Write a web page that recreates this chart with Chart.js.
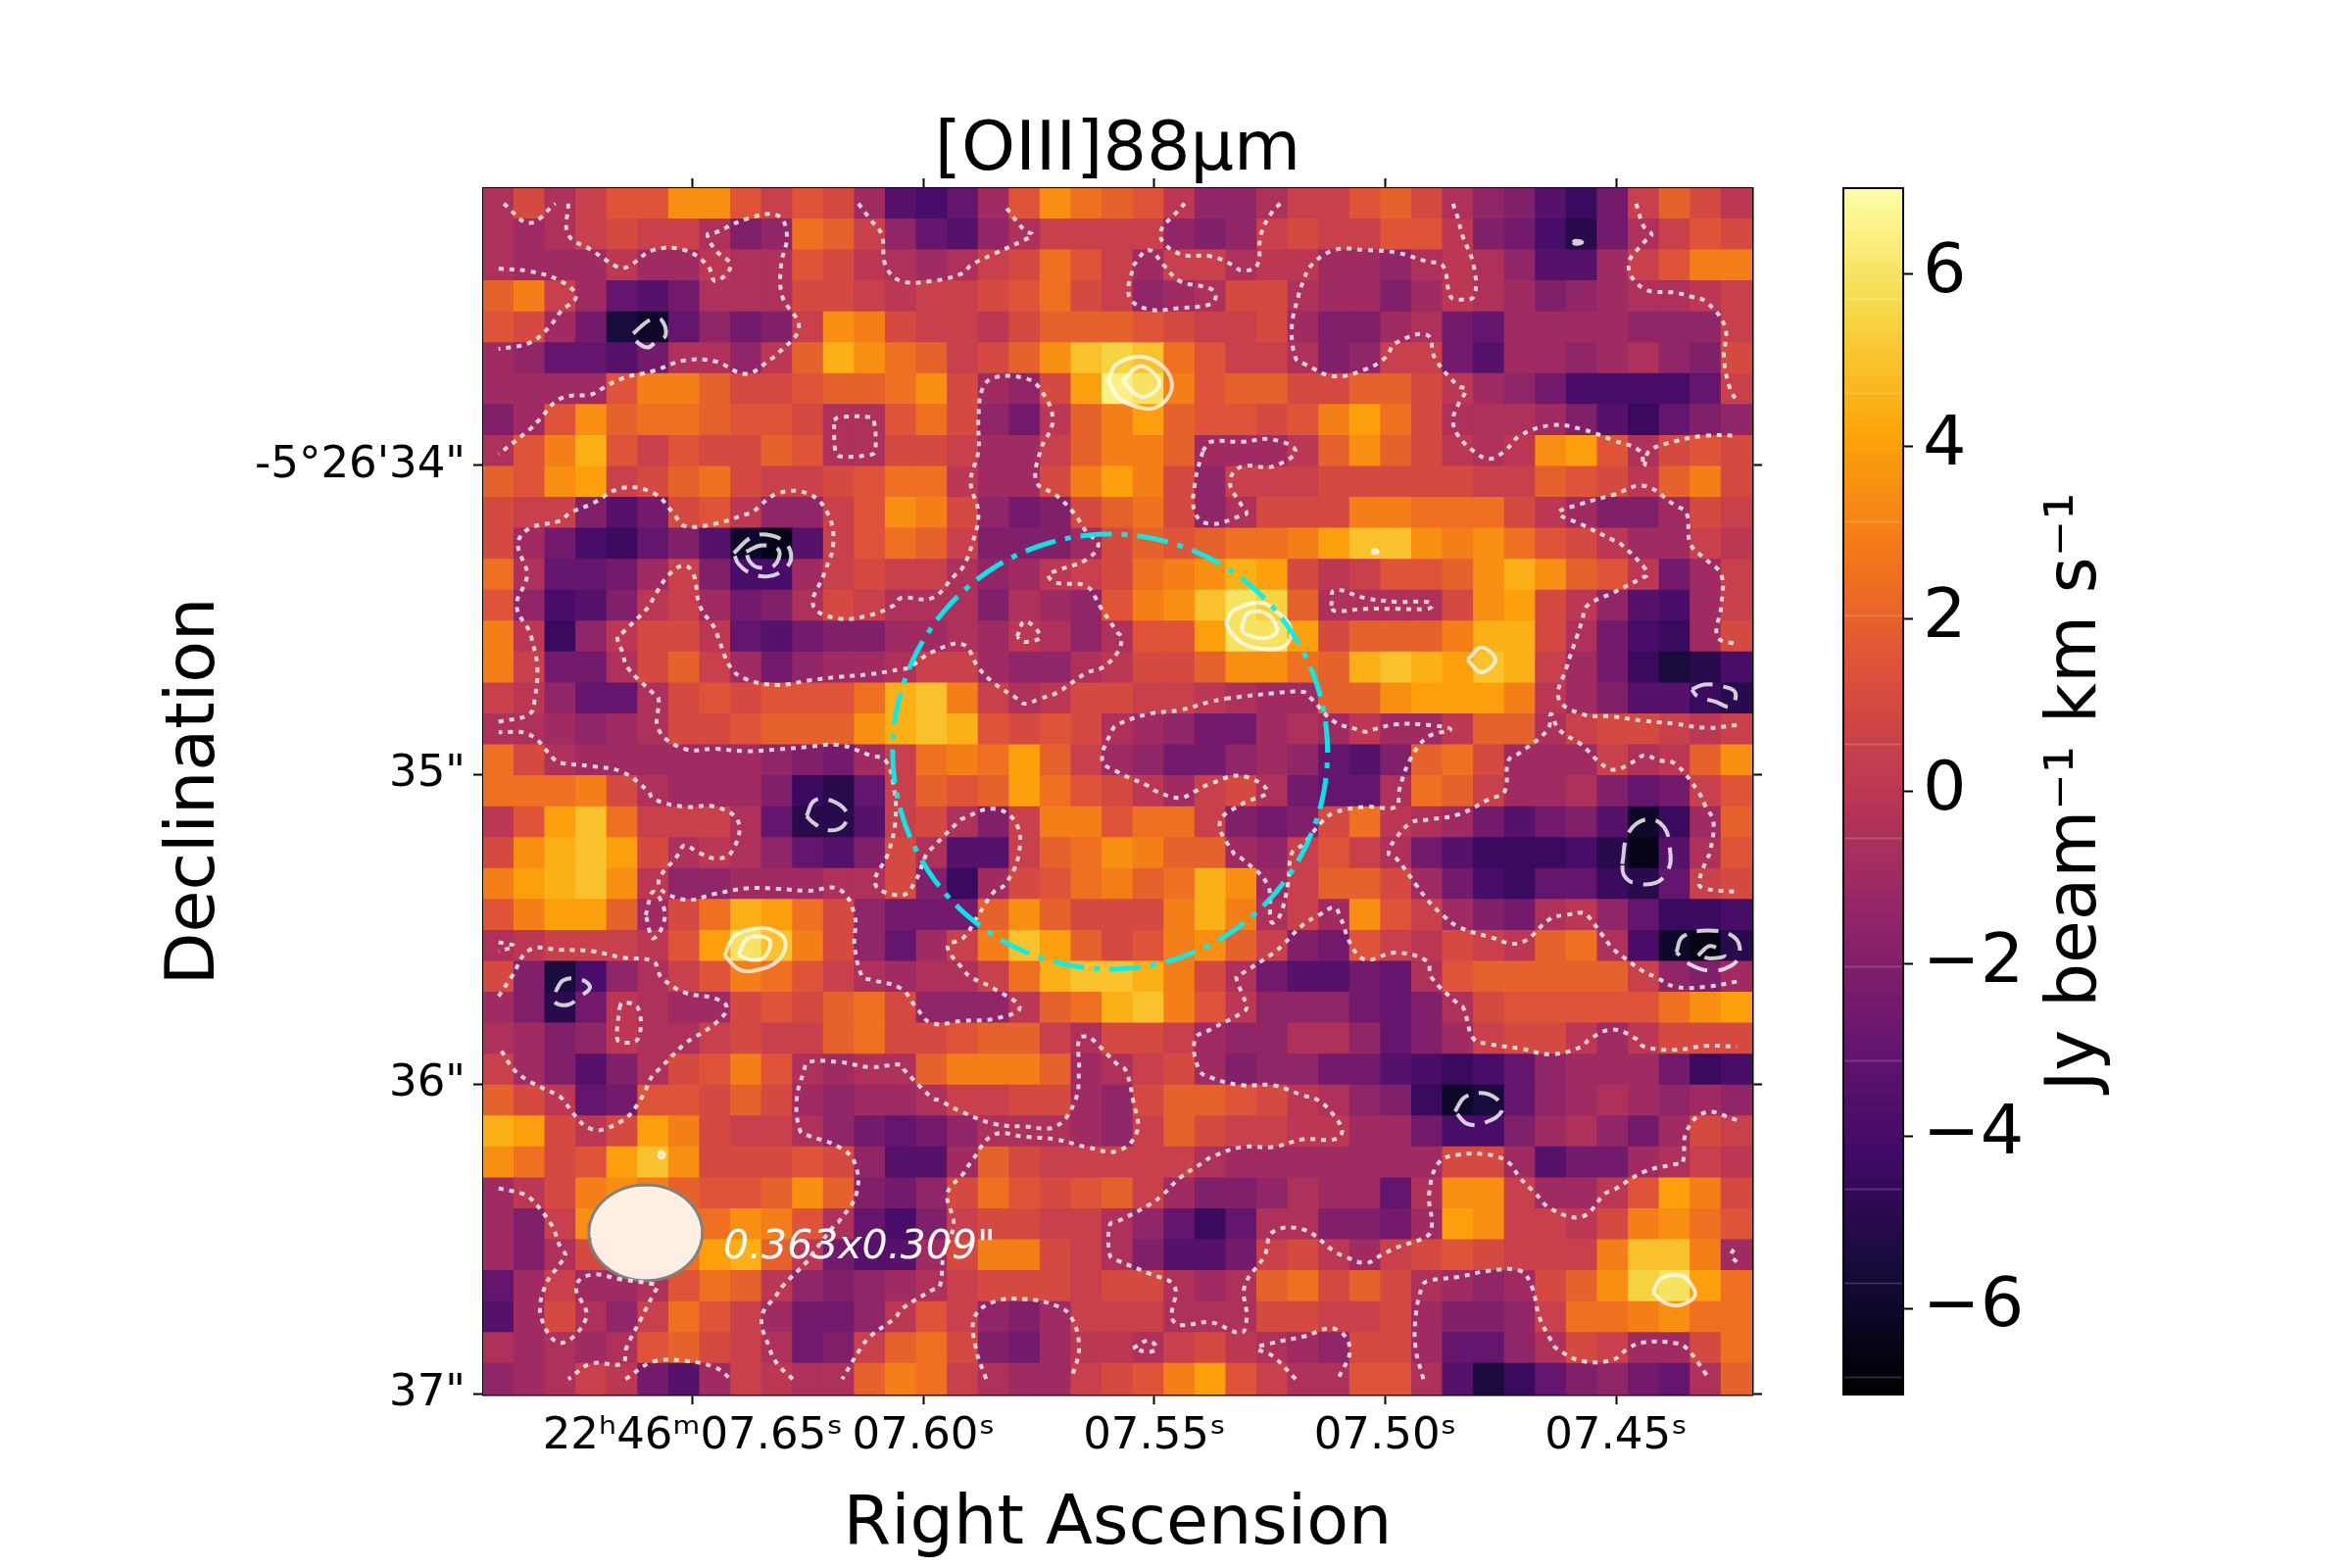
<!DOCTYPE html>
<html>
<head>
<meta charset="utf-8">
<style>
  body { margin: 0; background: #fff; }
  canvas { position: absolute; left: 0; top: 0; }
</style>
<script src="https://cdn.jsdelivr.net/npm/chart.js@4"></script>
</head>
<body>
<canvas id="mapChart" width="2400" height="1600"></canvas>
<canvas id="barChart" width="2400" height="1600"></canvas>
<script>
// moment 0 map, Jy/beam km/s in blocks of 2x2 map pixels (41 x 39)
const heat = [
[-.5,1,-.5,.5,1.5,1.5,3.5,3.5,1.5,.5,1.5,1,-1,-3.5,-4,-3,-1,1.5,3.5,2.5,2,1.5,0,-1.5,-1.5,-.5,.5,.5,1.5,2,1,-.5,-1.5,-2,-3.5,-4.5,-2.5,.5,2,1,0],
[-.5,-1,-.5,.5,1,.5,.5,-.5,-2,-1.5,2.5,2,.5,-1.5,-3,-3.5,-1.5,-.5,.5,.5,.5,.5,-1.5,-2,-1.5,.5,1,.5,.5,1.5,1.5,0,-2,-2.5,-4,-5,-2.5,-.5,.5,1.5,1],
[-.5,-1,-1,-1,0,-1,-1,0,-.5,-.5,1.5,1,0,-.5,-1,-.5,.5,1,2.5,1.5,.5,-1,.5,.5,-.5,0,0,-1,-1,-1.5,-.5,0,-.5,-1.5,-3.5,-3.5,-1,.5,1.5,3,3],
[2,3,.5,-1,-3,-3.5,-2.5,-.5,-.5,-.5,1,1,.5,0,.5,.5,1,1.5,2.5,1,.5,-1.5,-1,-.5,1,1,-.5,-1,-1,-2,-1,0,-.5,-1,-2,-1.5,-1,-.5,-.5,0,.5],
[1.5,1,-1,-2.5,-5.5,-6,-3,-1.5,-2.5,-2,.5,3.5,3,1,.5,.5,0,1,2,2,2,1.5,1,.5,.5,1,-1,-2,-2,-1,-.5,-2.5,-3,-1,-1,-1,-1,-1.5,-1.5,-1.5,.5],
[-1,-1.5,-3,-3,-3.5,-2.5,-.5,-.5,-1.5,0,2,4.5,3.5,2.5,2,.5,1,2,3.5,5,5.5,5,2.5,1.5,.5,.5,-.5,-2,-1.5,.5,.5,-2.5,-3.5,-1,-1,-1.5,-1,-.5,-1.5,-2,1],
[-1,-1,-1,-1,1.5,3,3,2,1,1,1.5,2,2,2.5,3.5,1,-1,-1.5,1,4,6.5,6,3,1.5,2,2,1,1,2,2,1,0,-1,-1.5,-2.5,-4,-4,-4,-4,-3,.5],
[-2,-1,1.5,3.5,2,2.5,2.5,2,1.5,1.5,1,-.5,-.5,1.5,2.5,1,-1.5,-2.5,0,2,3,4,2,1.5,1.5,1,1.5,3,4,2.5,1,-.5,-.5,-.5,-1,-2,-3.5,-4.5,-3,-2,-1.5],
[-.5,1.5,3,4.5,1.5,.5,1.5,1,1,2,1.5,-.5,-.5,1,1,.5,-1,-1,.5,2,3,3,2,-1,-1,-1,0,2,3.5,2,1,0,-.5,0,3.5,4,1.5,-.5,1,1.5,1],
[2,1.5,3.5,4,.5,1,2,2.5,1,.5,.5,1,1.5,2.5,2.5,0,-1,-1,1,3,4,3,1,-1.5,.5,.5,.5,1,1,1,1,1,.5,.5,2,1.5,1,0,2,3,1],
[1,.5,.5,-2,-3.5,-2.5,1,1.5,0,-1.5,-1.5,.5,1.5,3.5,3,1,-1.5,-2.5,-2,1,2,2.5,1,-1.5,-.5,1,1,1,3,3,2.5,2.5,2.5,1,0,-1,-2,-2,-1,1,.5],
[1,-1,-2.5,-4,-4.5,-3,-2,-3.5,-6,-6.5,-3.5,.5,1.5,2.5,2,.5,-2,-2,-2,-1,1,2,1.5,2,2.5,2.5,3,4,5,5,3.5,3,3.5,2.5,1.5,1,0,-1,-1,.5,0],
[2.5,-.5,-3,-3,-2.5,-1,.5,-2,-4,-4,-1,.5,1,.5,.5,-.5,-1.5,-1,0,.5,1,2.5,3,3.5,4.5,4,1,0,.5,1.5,1.5,2,3.5,4.5,3.5,2,1.5,0,-2.5,-1,.5],
[1.5,-1.5,-4,-3.5,-2,0,.5,-1,-2.5,-2,-.5,1,.5,-.5,-.5,-.5,-2,-.5,-1,-1.5,1.5,3,3.5,5,6,5.5,2,-.5,-.5,-.5,-.5,1,3.5,4,1,0,-1.5,-3.5,-4,-1,.5],
[3,0,-4.5,-1.5,0,1,1,0,-3,-3.5,-2.5,-2,-2,-1,-1,-.5,-1,0,-.5,-1.5,-.5,1.5,1.5,4,6,6,4,1,2,2,2,3,4.5,4.5,1,-.5,-2.5,-4,-4.5,-1,1],
[3,.5,-2.5,-2.5,-.5,1,2,.5,-1,-2.5,-1.5,-1,-1,-.5,.5,.5,-1,-1.5,-1.5,-.5,0,1,1,2,3.5,3.5,2.5,2,4.5,5,4.5,4,5,4.5,.5,-1,-2.5,-4.5,-5.5,-5,-4],
[.5,0,-1.5,-3,-3,-.5,1,1.5,1,1.5,1.5,1.5,2.5,4.5,5,3,.5,-.5,0,1,1,.5,.5,0,-.5,-1,-1,2,2,3.5,4,4,4,3,0,-1,-2,-3.5,-3.5,-4.5,-5],
[-.5,-.5,-1,-1.5,-1,-.5,1,1,1.5,2,2,2,3.5,4.5,5,4.5,1.5,1,1.5,1,-.5,-1,-1.5,-2.5,-2.5,-1,-.5,-1,0,-1,-1,0,2,2,-.5,.5,1,1,.5,0,.5],
[2.5,1,-.5,-1,-1,-1,-1,-1,-1,-1.5,-2,-2.5,-1,.5,2.5,3,2.5,4,2,.5,-1,-1.5,-2.5,-2.5,-1.5,-1,-1.5,-3,-3.5,-2,2,2.5,1,-1,-1,-1,.5,-.5,0,2,3.5],
[2.5,2.5,2.5,3,1,-.5,-1,-1,-1,-2,-4.5,-5,-3,.5,2,1.5,2,4,2.5,1.5,1,0,-1,.5,1,-.5,-2.5,-3,-3,-.5,2.5,2,.5,-1,-1,-.5,-2,-3,-2.5,.5,1.5],
[0,1.5,4,5,2.5,.5,.5,.5,-.5,-3,-5,-5,-3.5,.5,1,-.5,-2,.5,3,3,1.5,2.5,2.5,.5,-2,-2.5,-2,1,2.5,0,-.5,-1,-2.5,-3.5,-2.5,-2,-3.5,-6,-4.5,-1,2],
[1,3.5,4.5,5,4,1,-.5,0,-.5,-1.5,-3,-3.5,-2,1,-.5,-3.5,-3.5,.5,2,2.5,3.5,3,2,2,-1,-1.5,.5,1.5,.5,-.5,-2.5,-3.5,-4.5,-4.5,-4.5,-4,-5,-6.5,-3.5,-.5,1.5],
[3,4,4.5,5,3.5,0,-1.5,-1.5,-1,-1,-1,-.5,-.5,1,-2,-4.5,-1,1,1.5,2.5,3,2,2.5,4.5,3.5,-1,.5,2,2,1,-1,-2.5,-4,-4.5,-3,-3,-4.5,-5,-3,.5,1],
[1.5,3,4,4,2,-1,1,2.5,4.5,4,2.5,1,-1.5,-2.5,-2.5,-2.5,2,3.5,2,1,1,1,3,4.5,3,-.5,.5,-1,3.5,1.5,.5,-1,-2,-2.5,-.5,0,-1.5,-3,-4.5,-4.5,-4],
[-.5,0,.5,.5,.5,0,1.5,4,6,5,3,1,-1.5,-3,-1,.5,3,5,4,2,1,1.5,3,3.5,2,.5,-2,-2.5,1.5,.5,0,1,.5,0,2,2.5,-.5,-4,-6,-6.5,-5],
[1,-2,-5.5,-4,-1.5,-.5,.5,1.5,3,2.5,1.5,.5,-.5,-1,-.5,-.5,.5,2.5,4.5,5,5,4.5,3,1,-.5,-2.5,-3.5,-3.5,-2.5,-3,-.5,1.5,2,2,2,2,2,.5,-1.5,-2,-1],
[-1,-2,-5,-2.5,0,-.5,-1,-1,1,1.5,1,2,2.5,1,-1.5,-1.5,-1.5,0,2,2.5,4.5,5,3,1.5,0,-1.5,-1.5,-1.5,-2.5,-3,-2,-.5,1,1.5,1.5,1.5,1.5,1.5,2.5,3.5,4],
[-.5,-1,-2,-1.5,0,-.5,-.5,.5,1,.5,.5,2,2.5,1,1,1.5,2,2,.5,-.5,1,1,.5,-1,-1.5,-1.5,-.5,-.5,-1.5,-3,-2,-1,.5,1,1,0,-1,0,1,1,1],
[.5,-1,-2,-3.5,-2,-.5,1,1.5,3,1.5,-.5,-1,-.5,-.5,2,3,3,3,2,-1,-.5,.5,1,-1,-2,-1.5,-1.5,-2.5,-2.5,-3.5,-4,-4.5,-4,-3,-1.5,-1,-1,-1,-2.5,-4.5,-4],
[2,1,0,-3,-2.5,1.5,1.5,1,2,1,-1,-1.5,-1,-1,-.5,.5,.5,1,1,-1,-1.5,1,2,2,1.5,1,0,-.5,-1.5,-2,-4.5,-6,-5.5,-3,-1.5,-1,-.5,-1,-1.5,-1,-1.5],
[4.5,4,1,0,1,4,3,1,.5,.5,-.5,-1.5,-2.5,-3,-2.5,-1.5,-.5,-.5,-.5,-1,-1.5,.5,2,1,.5,.5,0,0,-1,-1,-2.5,-4,-4,-2,-1,-.5,-1.5,-2.5,-1,1,.5],
[3.5,2.5,1,1.5,4,5,3.5,1,1,1,1.5,1,-1.5,-3.5,-3.5,-1,2,1,.5,.5,.5,.5,.5,-.5,-1,-1,-1,-1,-1,-1,-1,1,1,-1,-3.5,-2.5,-2.5,-1,-.5,.5,0],
[-1,0,1,3,3.5,3,2,1.5,1.5,2,3.5,2,-2,-2.5,-1.5,1,2.5,1.5,1,1.5,2,.5,-1,-2,-2,-1.5,-.5,-1,-1,-3,-.5,3.5,3.5,.5,-1,-1,0,1.5,4,3,1],
[-1,-2,.5,3.5,3,3,2.5,2.5,3.5,3,1.5,-.5,-3,-4,-2,.5,1,1,.5,.5,-.5,-1.5,-3,-4.5,-3,-.5,-.5,-2,-2,-2.5,-1,4,3.5,.5,.5,0,1,3,3.5,2.5,1.5],
[-1,-2,-.5,1,2.5,3,2.5,4,4.5,2,0,-2.5,-3.5,-3.5,-1,1,3,3,1,.5,-.5,-2,-3.5,-3.5,-2.5,.5,1,0,-1,.5,1,1.5,1,.5,.5,.5,3,5,5,3,-1],
[-3,-1,.5,-1,-1,-.5,1.5,2.5,2,0,-1.5,-2,-1.5,-1,-.5,.5,1,1,1,.5,1,1,-.5,-1,-.5,2,2.5,1,2,1,-.5,-1,-1.5,-1,1,2,3.5,5.5,6,4,2.5],
[-3.5,-1,1,-.5,-1.5,.5,2.5,1.5,.5,-1,-2.5,-2.5,-1.5,0,1.5,.5,-1.5,-2,-1,.5,.5,.5,-.5,-.5,-.5,1,1,.5,.5,1,-1,-2,-2,-1.5,.5,2.5,2.5,3,3.5,2.5,2.5],
[-.5,-1,-.5,-1,-.5,1.5,2,1,.5,-.5,-2.5,-2,.5,2,2.5,1,-2,-2.5,-1,0,0,-.5,.5,1,0,-.5,-1,-1.5,1,1,-1,-3,-3,-1.5,-.5,1,.5,-1,-1,1,2.5],
[-1.5,-1,-.5,.5,0,-2.5,-3.5,-1,.5,0,-.5,-.5,2,3,2.5,.5,-.5,-1,-1,.5,1,1.5,3,4,1.5,.5,-.5,-.5,1.5,1.5,-.5,-3.5,-5.5,-4.5,-3,-2,-1.5,-2.5,-3,-.5,2]
];

// axis ranges and ticks
const raRange = [7.4205, 7.6954];
const decRange = [33.104, 37.003];
const raTicks = [7.65, 7.60, 7.55, 7.50, 7.45];
const decTicks = [34, 35, 36, 37];
const barTicks = [-6, -4, -2, 0, 2, 4, 6];
const barLevels = [];
for (let v = 70; v >= -70; v--) barLevels.push(v / 10);

// faint contours come out of the map at this level
const dottedLevel = -0.25;

// peak and dip contours, [map column, map row]
const dashedLoops = [
  [[9.7,9.4],[10.8,8.5],[11.5,8.5],[11.8,9.5],[11.2,9.9],[10.6,10.3],[9.8,9.8]],
  [[16.2,23.6],[17.3,22.6],[18.3,22.4],[19.5,22.9],[19.9,23.9],[19.4,24.7],[18.4,25.1],[17.3,24.9],[16.5,24.3]],
  [[17,23.5],[18,23.1],[19.1,23.4],[18.8,24.4],[17.7,24.5],[17.2,24.1]],
  [[70.4,3.5],[70.6,3.4],[71,3.5],[70.6,3.6]],
  [[78.1,32.4],[78.9,32.1],[80,32.2],[80.9,32.6],[80.6,33.5],[79.6,33.2],[78.4,32.8]],
  [[20.9,40.6],[21.4,39.6],[22.5,39.6],[23.5,40.4],[23.2,41.3],[22.2,41.5],[21.3,41]],
  [[73.6,43.7],[74,41.7],[75.2,40.8],[76.3,41.3],[76.7,42.9],[76.6,44],[75.8,44.9],[74.3,44.9],[73.7,44.4]],
  [[77.1,49.4],[77.5,48.4],[79.1,48],[80.8,48.4],[81.2,49.5],[80.6,50.3],[79.3,50.6],[78,50.2]],
  [[78.5,49.6],[79.3,49],[80.2,49.6],[79.3,49.8]],
  [[4.7,51.9],[5.2,51.2],[6.4,51.2],[6.9,51.7],[6.2,52.3],[5.5,52.8],[4.6,52.6]],
  [[62.8,59.7],[63.4,58.8],[64.5,58.5],[65.5,58.9],[65.8,59.7],[64.8,60.4],[63.6,60.5]]
];
const solidLoops = [
  [[40.4,12.5],[40.9,11.4],[42.5,10.9],[43.9,11.5],[44.5,12.6],[44.2,13.6],[43.4,14.2],[42.5,14.2],[41.1,13.6]],
  [[41.3,12.5],[42.5,11.5],[43.7,12.6],[42.6,13.5]],
  [[48,28.1],[48.5,27.3],[50.2,26.8],[51.3,27.4],[52.2,28.5],[51.8,29.6],[50.5,29.8],[49.2,29.5],[48.3,28.7]],
  [[49,28.5],[49.4,27.5],[50.6,27.5],[51.3,28.6],[50.5,29.1],[49.2,28.8]],
  [[15.6,49.6],[16.2,48.4],[17.4,47.9],[18.5,47.9],[19.5,48.6],[19.1,49.9],[17.5,50.6],[16.5,50.5]],
  [[16.5,49.6],[17.1,48.5],[18.5,48.6],[18.2,49.7],[17.4,49.9]],
  [[63.6,30.5],[64.5,29.7],[65.4,30.5],[64.5,31.3]],
  [[75.6,71.4],[76.1,70.5],[77.4,70.3],[78,70.8],[78.3,71.6],[77.4,72.2],[76.4,72.1]],
  [[57.4,23.5],[57.6,23.4],[57.8,23.5],[57.6,23.6]],
  [[11.3,62.5],[11.5,62.3],[11.7,62.5],[11.5,62.7]]
];

// aperture circle and beam, centre and radii on the sky
const aperture = { ra: 7.5596, dec: 34.925, rRa: 0.0471, rDec: 0.703 };
const beam = { ra: 7.6602, dec: 36.48, rRa: 0.0123, rDec: 0.155 };
const beamText = { ra: 7.6434, dec: 36.53, text: '0.363x0.309"' };

const FONT = '"DejaVu Sans"';
const NCOL = heat[0].length;
const NROW = heat.length;

const inferno = [[0,0,4],[22,11,57],[66,10,104],[106,23,110],[147,38,103],[188,55,84],[221,81,58],[243,120,25],[252,165,10],[246,215,70],[252,255,164]];
const colorOf = (v) => {
  const t = Math.min(0.9999, Math.max(0, (v + 7) / 14)) * (inferno.length - 1);
  const i = Math.floor(t), f = t - i;
  const c = inferno[i].map((a, k) => Math.round(a + (inferno[i + 1][k] - a) * f));
  return `rgb(${c[0]},${c[1]},${c[2]})`;
};

// position in blocks -> sky
const raAt = (c) => raRange[1] - c / NCOL * (raRange[1] - raRange[0]);
const decAt = (r) => decRange[0] + r / NROW * (decRange[1] - decRange[0]);
const skyOfCell = (p) => ({ x: raAt(p[0] / 2), y: decAt(p[1] / 2) });

const heatPoints = [];
const heatColors = [];
heat.forEach((row, r) => row.forEach((v, c) => {
  heatPoints.push({ x: raAt(c + 0.5), y: decAt(r + 0.5) });
  heatColors.push(colorOf(v));
}));

// marching squares over block centres, then chain pieces into lines
const contourLines = (level) => {
  const segs = [];
  const cross = (r1, c1, r2, c2) => {
    const a = heat[r1][c1], b = heat[r2][c2];
    const f = (level - a) / (b - a);
    return [r1 + (r2 - r1) * f, c1 + (c2 - c1) * f];
  };
  for (let r = 0; r < NROW - 1; r++) {
    for (let c = 0; c < NCOL - 1; c++) {
      const top = () => cross(r, c, r, c + 1);
      const right = () => cross(r, c + 1, r + 1, c + 1);
      const bottom = () => cross(r + 1, c, r + 1, c + 1);
      const left = () => cross(r, c, r + 1, c);
      const idx = (heat[r][c] > level ? 8 : 0) + (heat[r][c + 1] > level ? 4 : 0) + (heat[r + 1][c + 1] > level ? 2 : 0) + (heat[r + 1][c] > level ? 1 : 0);
      if (idx === 1 || idx === 14) segs.push([left(), bottom()]);
      if (idx === 2 || idx === 13) segs.push([bottom(), right()]);
      if (idx === 3 || idx === 12) segs.push([left(), right()]);
      if (idx === 4 || idx === 11) segs.push([top(), right()]);
      if (idx === 6 || idx === 9) segs.push([top(), bottom()]);
      if (idx === 7 || idx === 8) segs.push([top(), left()]);
      if (idx === 5) { segs.push([top(), left()]); segs.push([bottom(), right()]); }
      if (idx === 10) { segs.push([top(), right()]); segs.push([left(), bottom()]); }
    }
  }
  const key = (p) => p[0].toFixed(4) + ',' + p[1].toFixed(4);
  const ends = {};
  segs.forEach((s, i) => s.forEach((p) => { (ends[key(p)] = ends[key(p)] || []).push(i); }));
  const used = segs.map(() => false);
  const walk = (line) => {
    for (;;) {
      const last = line[line.length - 1];
      const next = (ends[key(last)] || []).find((i) => !used[i]);
      if (next === undefined) return line;
      used[next] = true;
      const s = segs[next];
      line.push(key(s[0]) === key(last) ? s[1] : s[0]);
    }
  };
  const lines = [];
  segs.forEach((s, i) => {
    if (used[i]) return;
    used[i] = true;
    const head = walk([s[0], s[1]]);
    const tail = walk([s[0]]);
    lines.push(tail.reverse().concat(head.slice(1)));
  });
  return lines;
};

const ellipsePoints = (e, n) => {
  const pts = [];
  for (let i = 0; i <= n; i++) {
    const a = i / n * 2 * Math.PI;
    pts.push({ x: e.ra + e.rRa * Math.cos(a), y: e.dec + e.rDec * Math.sin(a) });
  }
  return pts;
};

const lineSet = (data, color, dash, order) => ({
  data, order, showLine: true, fill: false, pointRadius: 0, tension: 0.4,
  borderColor: color, borderWidth: 4, borderDash: dash, borderCapStyle: 'butt'
});

const datasets = [];
datasets.push({
  data: heatPoints, order: 10, pointStyle: 'rect', pointRadius: 23.2, borderWidth: 0,
  pointBorderWidth: 0, pointBackgroundColor: heatColors, showLine: false
});
contourLines(dottedLevel).forEach((line) => {
  const pts = line.map((p) => ({ x: raAt(p[1] + 0.5), y: decAt(p[0] + 0.5) }));
  datasets.push(lineSet(pts, 'rgba(255,255,255,0.8)', [5, 6], 3));
});
dashedLoops.forEach((loop) => {
  datasets.push(lineSet(loop.concat([loop[0]]).map(skyOfCell), 'rgba(255,255,255,0.8)', [22, 11], 3));
});
solidLoops.forEach((loop) => {
  datasets.push(lineSet(loop.concat([loop[0]]).map(skyOfCell), 'rgba(255,255,255,0.75)', [], 3));
});
datasets.push({
  data: ellipsePoints(beam, 64), order: 5, showLine: true, pointRadius: 0, tension: 0,
  fill: 'shape', backgroundColor: 'rgba(255,245,238,0.95)', borderColor: '#808080', borderWidth: 3
});
datasets.push(lineSet(ellipsePoints(aperture, 180), 'rgba(0,240,240,0.95)', [32, 10, 6, 10], 1));
datasets[datasets.length - 1].borderWidth = 5;
datasets[datasets.length - 1].tension = 0;

const fixTicks = (values) => (scale) => { scale.ticks = values.map((v) => ({ value: v })); };
const gridOpts = { drawOnChartArea: false, drawTicks: true, tickLength: 10, tickWidth: 2, tickColor: '#000' };
const borderOpts = { display: true, color: '#000', width: 2.5 };

const raLabel = (v) => {
  const s = '07.' + String(Math.round((v - 7) * 100)) + 'ˢ';
  return Math.abs(v - 7.65) < 0.001 ? '22ʰ46ᵐ' + s : s;
};
const decLabel = (v) => (v === 34 ? '-5°26\'34"' : v + '"');

// beam size text sits on top of everything
const beamLabel = {
  id: 'beamLabel',
  afterDraw(chart) {
    const { ctx, scales } = chart;
    ctx.save();
    ctx.fillStyle = '#fff';
    ctx.font = 'italic 41px ' + FONT;
    ctx.textBaseline = 'middle';
    ctx.fillText(beamText.text, scales.x.getPixelForValue(beamText.ra), scales.y.getPixelForValue(beamText.dec));
    ctx.restore();
  }
};

new Chart(document.getElementById('mapChart'), {
  type: 'scatter',
  data: { datasets },
  plugins: [beamLabel],
  options: {
    responsive: false, animation: false, events: [], devicePixelRatio: 1,
    plugins: { legend: { display: false }, tooltip: { enabled: false } },
    scales: {
      x: {
        type: 'linear', position: 'bottom', reverse: true, min: raRange[0], max: raRange[1],
        afterBuildTicks: fixTicks(raTicks), afterFit: (s) => { s.height = 177; },
        ticks: { callback: raLabel, autoSkip: false, maxRotation: 0, padding: 6, color: '#000', font: { family: FONT, size: 45 } },
        grid: gridOpts, border: borderOpts,
        title: { display: true, text: 'Right Ascension', color: '#000', font: { family: FONT, size: 70 }, padding: { top: 0, bottom: 1 } }
      },
      y: {
        type: 'linear', position: 'left', reverse: true, min: decRange[0], max: decRange[1],
        afterBuildTicks: fixTicks(decTicks), afterFit: (s) => { s.width = 493; },
        ticks: { callback: decLabel, autoSkip: false, padding: 8, color: '#000', font: { family: FONT, size: 45 } },
        grid: gridOpts, border: borderOpts,
        title: { display: true, text: 'Declination', color: '#000', font: { family: FONT, size: 70 }, padding: { top: 158, bottom: 0 } }
      },
      xTop: {
        type: 'linear', axis: 'x', position: 'top', reverse: true, min: raRange[0], max: raRange[1],
        afterBuildTicks: fixTicks(raTicks), afterFit: (s) => { s.height = 192; },
        ticks: { display: false }, grid: gridOpts, border: borderOpts,
        title: { display: true, text: '[OIII]88μm', color: '#000', font: { family: FONT, size: 70 }, padding: { top: 113, bottom: 0 } }
      },
      yRight: {
        type: 'linear', axis: 'y', position: 'right', reverse: true, min: decRange[0], max: decRange[1],
        afterBuildTicks: fixTicks(decTicks), afterFit: (s) => { s.width = 612; },
        ticks: { display: false }, grid: gridOpts, border: borderOpts
      }
    }
  }
});

// colour bar frame and its rotated label
const barDecor = {
  id: 'barDecor',
  afterDraw(chart) {
    const { ctx, chartArea: a } = chart;
    ctx.save();
    ctx.strokeStyle = '#000';
    ctx.lineWidth = 2;
    ctx.strokeRect(a.left, a.top, a.right - a.left, a.bottom - a.top);
    ctx.translate(2120, 808);
    ctx.rotate(-Math.PI / 2);
    ctx.fillStyle = '#000';
    ctx.font = '71px ' + FONT;
    ctx.textAlign = 'center';
    ctx.textBaseline = 'middle';
    ctx.fillText('Jy beam⁻¹ km s⁻¹', 0, 0);
    ctx.restore();
  }
};

new Chart(document.getElementById('barChart'), {
  type: 'bar',
  data: {
    labels: barLevels,
    datasets: [{
      data: barLevels.map(() => 1),
      backgroundColor: barLevels.map(colorOf), borderColor: barLevels.map(colorOf), borderWidth: 1,
      barPercentage: 1, categoryPercentage: 1
    }]
  },
  plugins: [barDecor],
  options: {
    indexAxis: 'y', responsive: false, animation: false, events: [], devicePixelRatio: 1,
    layout: { padding: { left: 1881, top: 192, bottom: 177 } },
    plugins: { legend: { display: false }, tooltip: { enabled: false } },
    scales: {
      x: { display: false, min: 0, max: 1 },
      y: { display: false },
      level: {
        type: 'linear', axis: 'y', position: 'right', min: -7, max: 7, offset: false,
        afterBuildTicks: fixTicks(barTicks), afterFit: (s) => { s.width = 458; },
        ticks: { callback: (v) => String(v).replace('-', '−'), autoSkip: false, padding: 10, color: '#000', font: { family: FONT, size: 70 } },
        grid: { offset: false, drawOnChartArea: false, drawTicks: true, tickLength: 10, tickWidth: 2, tickColor: '#000' },
        border: { display: false }
      }
    }
  }
});
</script>
</body>
</html>
